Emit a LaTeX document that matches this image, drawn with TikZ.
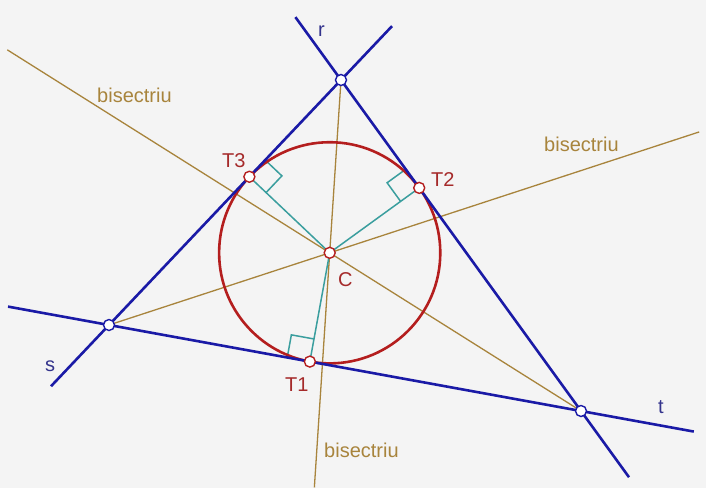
\documentclass[tikz,border=0pt]{standalone}
\usepackage{fontspec}
\setmainfont{Liberation Sans}
\usetikzlibrary{calc}
\definecolor{sideblue}{HTML}{1A1AA6}
\definecolor{sidelabel}{HTML}{33338C}
\definecolor{circred}{HTML}{B41E1E}
\definecolor{touchlabel}{HTML}{A52A2A}
\definecolor{bisgold}{HTML}{A8843C}
\definecolor{spoketeal}{HTML}{3A9E9E}
\definecolor{paper}{HTML}{F4F4F4}

\begin{document}
\begin{tikzpicture}[
      x=1pt, y=-1pt,
      side/.style={line width=2.6pt, draw=sideblue},
      bis/.style={line width=1.3pt, draw=bisgold},
      spoke/.style={line width=1.5pt, draw=spoketeal},
      incirc/.style={line width=2.6pt, draw=circred},
      vdot/.style={circle, draw=sideblue, fill=white, line width=1.4pt, inner sep=0pt, minimum size=11pt},
      tdot/.style={vdot, draw=circred},
      lbl/.style={anchor=base west, inner sep=0pt, font=\fontsize{20}{24}\selectfont}
    ]
      \fill[paper] (0,0) rectangle (706,488);
      \useasboundingbox (0,0) rectangle (706,488);
      % vertices, incenter and touch points
      \coordinate (rs) at (341,80);
      \coordinate (st) at (109,325);
      \coordinate (rt) at (581,411);
      \coordinate (C) at (329.7,252.8);
      \coordinate (T3) at ($(st)!(C)!(rs)$);
      \coordinate (T2) at ($(rs)!(C)!(rt)$);
      \coordinate (T1) at ($(st)!(C)!(rt)$);
      % bisectors
      \draw[bis] (rs) -- ($(rs)!2.358!(C)$);
      \draw[bis] (st) -- ($(st)!2.674!(C)$);
      \draw[bis] (rt) -- ($(rt)!2.283!(C)$);
      % radii and right angle marks
      \foreach \tp/\vx in {T3/rs, T2/rs, T1/st} {
        \draw[spoke] (C) -- (\tp);
        \draw[spoke] ($(\tp)!23pt!(\vx)$) -- ($(\tp)!23pt!(\vx) + (\tp)!23pt!(C) - (\tp)$) -- ($(\tp)!23pt!(C)$);
      }
      \draw[incirc] let \p1=($(T1)-(C)$) in (C) circle[radius={veclen(\x1,\y1)}];
      % the three lines
      \draw[side] ($(rs)!-0.19!(rt)$) -- ($(rs)!1.2!(rt)$);
      \draw[side] ($(st)!-0.25!(rs)$) -- ($(st)!1.22!(rs)$);
      \draw[side] ($(st)!-0.214!(rt)$) -- ($(st)!1.239!(rt)$);
      % points
      \node[vdot] (rsdot) at (rs) {};
      \node[vdot] (stdot) at (st) {};
      \node[vdot] (rtdot) at (rt) {};
      \node[tdot] (Cdot) at (C) {};
      \node[tdot] (T1dot) at (T1) {};
      \node[tdot] (T2dot) at (T2) {};
      \node[tdot] (T3dot) at (T3) {};
      % labels
      \node[lbl, text=sidelabel] (rlbl) at (318,36) {r};
      \node[lbl, text=sidelabel] (slbl) at (45,371) {s};
      \node[lbl, text=sidelabel] (tlbl) at (658,413) {t};
      \node[lbl, text=touchlabel] (T3lbl) at (222,167) {T3};
      \node[lbl, text=touchlabel] (T2lbl) at (431,186) {T2};
      \node[lbl, text=touchlabel] (T1lbl) at (285,391) {T1};
      \node[lbl, text=touchlabel] (Clbl) at (338,286) {C};
      \node[lbl, text=bisgold] (bislbl1) at (97,102) {bisectriu};
      \node[lbl, text=bisgold] (bislbl2) at (544,151) {bisectriu};
      \node[lbl, text=bisgold] (bislbl3) at (324,457) {bisectriu};
    \end{tikzpicture}
\end{document}
